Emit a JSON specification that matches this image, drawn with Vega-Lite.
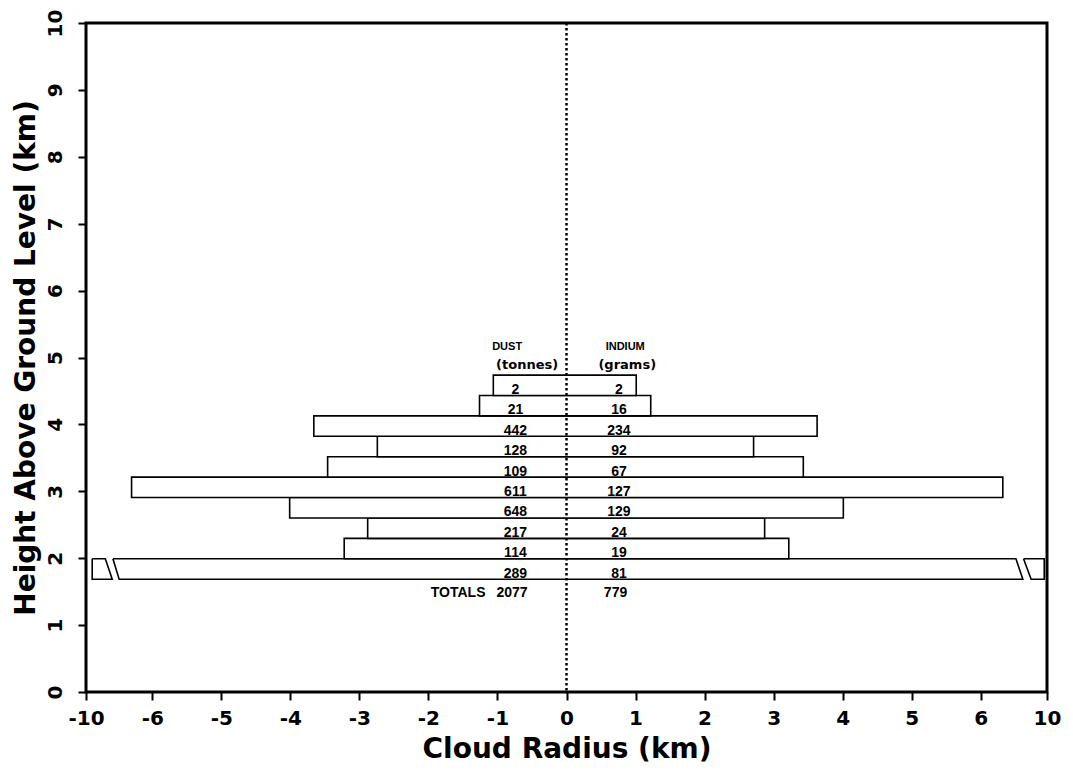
{
  "$schema": "https://vega.github.io/schema/vega-lite/v6.json",
  "width": 961,
  "height": 669,
  "autosize": {"type": "none"},
  "padding": {"left": 86, "top": 23, "right": 26, "bottom": 78},
  "background": "white",
  "config": {
    "view": {"stroke": "black", "strokeWidth": 3},
    "font": "DejaVu Sans",
    "axis": {
      "domain": false,
      "grid": false,
      "tickColor": "black",
      "tickWidth": 2,
      "tickSize": 8,
      "labelColor": "black",
      "labelFont": "DejaVu Sans",
      "labelFontWeight": "bold",
      "labelFontSize": 20,
      "titleFont": "DejaVu Sans",
      "titleFontWeight": "bold",
      "titleFontSize": 28,
      "titleColor": "black"
    }
  },
  "datasets": {
    "layers": [
      {"y0": 1.686, "y1": 1.991, "dust": "289", "indium": "81"},
      {"y0": 1.991, "y1": 2.296, "xl": -3.22, "xr": 3.22, "dust": "114", "indium": "19"},
      {"y0": 2.296, "y1": 2.602, "xl": -2.88, "xr": 2.87, "dust": "217", "indium": "24"},
      {"y0": 2.602, "y1": 2.907, "xl": -4.01, "xr": 4.01, "dust": "648", "indium": "129"},
      {"y0": 2.907, "y1": 3.212, "xl": -6.30, "xr": 6.32, "dust": "611", "indium": "127"},
      {"y0": 3.212, "y1": 3.517, "xl": -3.46, "xr": 3.43, "dust": "109", "indium": "67"},
      {"y0": 3.517, "y1": 3.822, "xl": -2.74, "xr": 2.71, "dust": "128", "indium": "92"},
      {"y0": 3.822, "y1": 4.127, "xl": -3.66, "xr": 3.63, "dust": "442", "indium": "234"},
      {"y0": 4.127, "y1": 4.432, "xl": -1.26, "xr": 1.22, "dust": "21", "indium": "16"},
      {"y0": 4.432, "y1": 4.737, "xl": -1.06, "xr": 1.01, "dust": "2", "indium": "2"}
    ],
    "outline": [
      {"shape": "main", "ord": 1, "x": -6.57, "y": 1.991},
      {"shape": "main", "ord": 2, "x": 6.51, "y": 1.991},
      {"shape": "main", "ord": 3, "x": 6.61, "y": 1.686},
      {"shape": "main", "ord": 4, "x": -6.48, "y": 1.686},
      {"shape": "main", "ord": 5, "x": -6.57, "y": 1.991},
      {"shape": "left", "ord": 1, "x": -6.87, "y": 1.991},
      {"shape": "left", "ord": 2, "x": -6.68, "y": 1.991},
      {"shape": "left", "ord": 3, "x": -6.58, "y": 1.686},
      {"shape": "left", "ord": 4, "x": -6.87, "y": 1.686},
      {"shape": "left", "ord": 5, "x": -6.87, "y": 1.991},
      {"shape": "right", "ord": 1, "x": 6.62, "y": 1.991},
      {"shape": "right", "ord": 2, "x": 6.92, "y": 1.991},
      {"shape": "right", "ord": 3, "x": 6.92, "y": 1.686},
      {"shape": "right", "ord": 4, "x": 6.73, "y": 1.686},
      {"shape": "right", "ord": 5, "x": 6.62, "y": 1.991}
    ],
    "caps": [
      {"label": "DUST", "x": -0.86, "y": 5.157},
      {"label": "INDIUM", "x": 0.85, "y": 5.157}
    ],
    "units": [
      {"label": "(tonnes)", "x": -0.57, "y": 4.888},
      {"label": "(grams)", "x": 0.88, "y": 4.888}
    ],
    "totals": [
      {"label": "TOTALS", "x": -1.57, "y": 1.477},
      {"label": "2077", "x": -0.79, "y": 1.477},
      {"label": "779", "x": 0.71, "y": 1.477}
    ]
  },
  "layer": [
    {
      "data": {"name": "layers"},
      "transform": [{"filter": "isValid(datum.xl)"}],
      "mark": {"type": "rect", "fill": "white", "stroke": "black", "strokeWidth": 1.6},
      "encoding": {
        "x": {
          "field": "xl", "type": "quantitative",
          "scale": {"domain": [-6.96, 6.96], "nice": false, "zero": false},
          "axis": {
            "title": "Cloud Radius (km)",
            "values": [-6.96, -6, -5, -4, -3, -2, -1, 0, 1, 2, 3, 4, 5, 6, 6.96],
            "labelExpr": "datum.value < -6.5 ? '-10' : datum.value > 6.5 ? '10' : (datum.value < 0 ? '-' + abs(round(datum.value)) : '' + round(datum.value))",
            "labelPadding": 8,
            "titlePadding": 7,
            "labelFlush": false,
            "labelOverlap": false
          }
        },
        "x2": {"field": "xr"},
        "y": {
          "field": "y0", "type": "quantitative",
          "scale": {"domain": [0, 10], "nice": false},
          "axis": {
            "title": "Height Above Ground Level (km)",
            "values": [0, 1, 2, 3, 4, 5, 6, 7, 8, 9, 10],
            "format": "d",
            "labelAngle": -90,
            "labelAlign": "center",
            "labelBaseline": "bottom",
            "labelPadding": 13,
            "titlePadding": 5,
            "labelFlush": false,
            "labelOverlap": false
          }
        },
        "y2": {"field": "y1"}
      }
    },
    {
      "data": {"name": "outline"},
      "mark": {"type": "line", "color": "black", "strokeWidth": 1.6, "strokeJoin": "miter"},
      "encoding": {
        "x": {"field": "x", "type": "quantitative"},
        "y": {"field": "y", "type": "quantitative"},
        "detail": {"field": "shape"},
        "order": {"field": "ord", "type": "quantitative"}
      }
    },
    {
      "data": {"values": [{}]},
      "mark": {"type": "rule", "color": "black", "strokeWidth": 2.5, "strokeDash": [2.5, 2.5]},
      "encoding": {"x": {"datum": 0}}
    },
    {
      "data": {"name": "layers"},
      "mark": {"type": "text", "font": "Liberation Sans", "fontWeight": "bold", "fontSize": 14, "color": "black", "baseline": "alphabetic", "dy": -1.5},
      "encoding": {
        "x": {"datum": -0.74},
        "y": {"field": "y0", "type": "quantitative"},
        "text": {"field": "dust"}
      }
    },
    {
      "data": {"name": "layers"},
      "mark": {"type": "text", "font": "Liberation Sans", "fontWeight": "bold", "fontSize": 14, "color": "black", "baseline": "alphabetic", "dy": -1.5},
      "encoding": {
        "x": {"datum": 0.76},
        "y": {"field": "y0", "type": "quantitative"},
        "text": {"field": "indium"}
      }
    },
    {
      "data": {"name": "caps"},
      "mark": {"type": "text", "font": "Liberation Sans", "fontWeight": "bold", "fontSize": 11, "color": "black", "baseline": "middle"},
      "encoding": {
        "x": {"field": "x", "type": "quantitative"},
        "y": {"field": "y", "type": "quantitative"},
        "text": {"field": "label"}
      }
    },
    {
      "data": {"name": "units"},
      "mark": {"type": "text", "font": "DejaVu Sans", "fontWeight": "bold", "fontSize": 13, "color": "black", "baseline": "middle"},
      "encoding": {
        "x": {"field": "x", "type": "quantitative"},
        "y": {"field": "y", "type": "quantitative"},
        "text": {"field": "label"}
      }
    },
    {
      "data": {"name": "totals"},
      "mark": {"type": "text", "font": "Liberation Sans", "fontWeight": "bold", "fontSize": 14, "color": "black", "baseline": "middle"},
      "encoding": {
        "x": {"field": "x", "type": "quantitative"},
        "y": {"field": "y", "type": "quantitative"},
        "text": {"field": "label"}
      }
    }
  ]
}
